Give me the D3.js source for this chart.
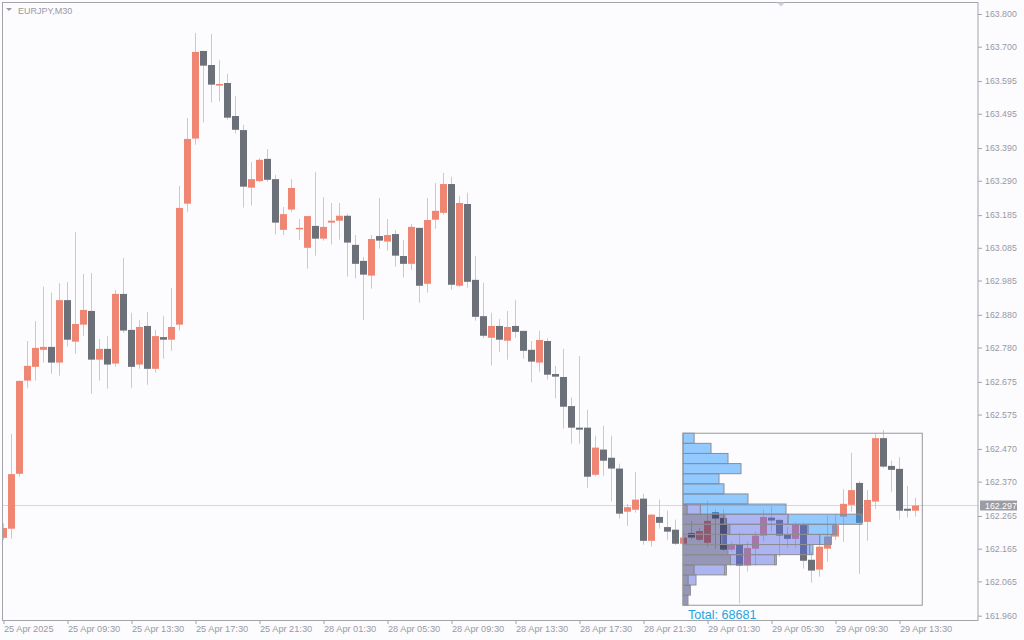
<!DOCTYPE html>
<html><head><meta charset="utf-8">
<script src="https://cdn.jsdelivr.net/npm/d3@7"></script>
<style>
html,body{margin:0;padding:0;background:#fcfcfe;}
svg{display:block;font-family:"Liberation Sans",Arial,sans-serif;}
</style>
</head><body>
<svg id="chart" width="1024" height="640"></svg>
<script>
const symbol = "EURJPY,M30";
const timeLabels = ["25 Apr 2025","25 Apr 09:30","25 Apr 13:30","25 Apr 17:30","25 Apr 21:30","28 Apr 01:30","28 Apr 05:30","28 Apr 09:30","28 Apr 13:30","28 Apr 17:30","28 Apr 21:30","29 Apr 01:30","29 Apr 05:30","29 Apr 09:30","29 Apr 13:30"];
const priceTicks = [163.800,163.700,163.595,163.495,163.390,163.290,163.185,163.085,162.985,162.880,162.780,162.675,162.575,162.470,162.370,162.265,162.165,162.065,161.960];
const lastPrice = 162.297;

const open = [162.198,162.226,162.394,162.679,162.721,162.773,162.782,162.734,162.925,162.798,162.850,162.892,162.743,162.776,162.731,162.944,162.834,162.728,162.846,162.715,162.812,162.804,162.850,163.220,163.419,163.687,163.644,163.581,163.589,163.488,163.445,163.269,163.289,163.357,163.295,163.140,163.202,163.143,163.085,163.152,163.113,163.162,163.168,163.183,163.094,163.045,163.000,163.121,163.104,163.127,163.060,163.036,163.146,162.975,163.171,163.192,163.280,162.969,163.219,162.987,162.876,162.810,162.846,162.801,162.846,162.831,162.773,162.734,162.800,162.699,162.690,162.601,162.535,162.535,162.391,162.468,162.443,162.410,162.278,162.284,162.318,162.189,162.262,162.231,162.223,162.180,162.213,162.192,162.183,162.277,162.259,162.162,162.179,162.113,162.165,162.205,162.260,162.253,162.207,162.195,162.237,162.131,162.101,162.165,162.202,162.263,162.299,162.366,162.247,162.309,162.503,162.418,162.409,162.287,162.281];
const high = [162.243,162.516,162.679,162.800,162.861,162.966,162.948,162.977,162.980,163.133,163.005,163.008,162.806,162.815,162.956,163.054,162.886,162.864,162.889,162.834,162.876,162.962,163.274,163.482,163.742,163.687,163.739,163.659,163.617,163.549,163.461,163.347,163.360,163.387,163.308,163.210,163.295,163.173,163.183,163.317,163.240,163.222,163.222,163.189,163.124,163.057,163.124,163.237,163.173,163.139,163.109,163.158,163.146,163.237,163.283,163.314,163.302,163.243,163.253,163.060,162.978,162.886,162.867,162.892,162.925,162.831,162.800,162.831,162.809,162.724,162.776,162.627,162.754,162.590,162.510,162.541,162.510,162.425,162.302,162.400,162.333,162.270,162.315,162.281,162.254,162.222,162.250,162.228,162.311,162.286,162.286,162.185,162.214,162.185,162.217,162.284,162.296,162.256,162.232,162.246,162.245,162.156,162.202,162.266,162.271,162.347,162.458,162.372,162.344,162.518,162.528,162.434,162.445,162.357,162.321];
const low = [162.191,162.195,162.385,162.656,162.679,162.734,162.700,162.694,162.783,162.761,162.816,162.639,162.679,162.654,162.721,162.825,162.657,162.715,162.666,162.703,162.746,162.770,162.832,163.195,163.400,163.468,163.529,163.532,163.477,163.434,163.208,163.214,163.286,163.287,163.126,163.124,163.195,163.109,163.021,163.061,163.107,163.095,163.110,162.997,162.991,162.864,162.960,163.082,163.076,163.027,162.994,163.018,162.917,162.948,163.143,163.186,162.957,162.965,162.963,162.862,162.809,162.725,162.767,162.743,162.810,162.746,162.673,162.706,162.682,162.624,162.532,162.486,162.486,162.351,162.387,162.388,162.309,162.257,162.235,162.275,162.177,162.171,162.226,162.192,162.176,162.176,162.191,162.188,162.171,162.165,162.159,162.156,161.998,162.095,162.113,162.186,162.217,162.140,162.168,162.168,162.104,162.061,162.079,162.125,162.191,162.186,162.278,162.088,162.189,162.287,162.412,162.339,162.254,162.260,162.263];
const close = [162.228,162.393,162.678,162.724,162.779,162.782,162.734,162.925,162.804,162.852,162.895,162.743,162.776,162.728,162.944,162.832,162.721,162.843,162.715,162.815,162.804,162.843,163.207,163.418,163.684,163.642,163.584,163.586,163.483,163.446,163.272,163.295,163.354,163.293,163.162,163.188,163.268,163.146,163.182,163.113,163.149,163.168,163.183,163.101,163.036,163.003,163.112,163.107,163.124,163.061,163.036,163.149,162.969,163.170,163.198,163.280,162.972,163.222,162.981,162.874,162.816,162.846,162.804,162.843,162.828,162.770,162.737,162.803,162.697,162.691,162.599,162.535,162.529,162.385,162.474,162.434,162.410,162.272,162.292,162.315,162.189,162.269,162.244,162.217,162.180,162.199,162.199,162.219,162.250,162.257,162.162,162.179,162.113,162.167,162.205,162.262,162.251,162.205,162.195,162.240,162.128,162.098,162.171,162.202,162.237,162.302,162.344,162.244,162.314,162.503,162.416,162.406,162.281,162.281,162.297];

// Volume profile (17 price rows, top to bottom), three stacked segments per row
const profileFirstBar = 85;
const profileLastBar = 114;
const profileHigh = 162.518;
const profileLow = 161.992;
const profileDark  = [0,0,0,0,0,0,0,237,2469,2765,2291,2646,2806,651,296,438,296];
const profileMid   = [0,0,0,0,0,0,0,793,3747,4635,5802,4854,2623,1817,474,0,0];
const profileLight = [659,1658,2664,3434,2131,2427,3848,5068,4381,1681,693,195,101,101,0,0,0];

const svg = d3.select("#chart");
const W = 1024, H = 640;
const plot = {left: 2, top: 2, right: 978, bottom: 620};

const x = d3.scaleLinear().domain([0, 1]).range([3.5, 11.5]);
const y = d3.scaleLinear().domain([161.960, 163.800]).range([615.7, 14]);

const textCol = "#9898a6";
const bullCol = "#ef8674";
const bearCol = "#6b7079";
const wickCol = "#c9c9d4";

svg.append("rect").attr("width", W).attr("height", H).attr("fill", "#fcfcfe");

svg.append("defs").append("clipPath").attr("id", "plotclip")
  .append("rect").attr("x", plot.left + 0.5).attr("y", plot.top + 0.5)
  .attr("width", plot.right - plot.left - 0.5).attr("height", plot.bottom - plot.top - 0.5);

const g = svg.append("g").attr("clip-path", "url(#plotclip)");

// current price line
g.append("line")
  .attr("x1", plot.left).attr("x2", plot.right)
  .attr("y1", Math.round(y(lastPrice)) + 0.5).attr("y2", Math.round(y(lastPrice)) + 0.5)
  .attr("stroke", "#d6d6dc").attr("stroke-width", 1);

const candles = open.map((o, i) => ({i, o, h: high[i], l: low[i], c: close[i]}));

g.append("g").selectAll("line").data(candles).join("line")
  .attr("x1", d => x(d.i)).attr("x2", d => x(d.i))
  .attr("y1", d => y(d.h)).attr("y2", d => y(d.l))
  .attr("stroke", wickCol).attr("stroke-width", 1);

g.append("g").selectAll("rect").data(candles).join("rect")
  .attr("x", d => x(d.i) - 3.5)
  .attr("width", 7)
  .attr("y", d => y(Math.max(d.o, d.c)))
  .attr("height", d => Math.max(1.5, Math.abs(y(d.o) - y(d.c))))
  .attr("fill", d => d.c >= d.o ? bullCol : bearCol);

// volume profile
const nRows = profileLight.length;
const step = (profileHigh - profileLow) / nRows;
const rowTotals = profileLight.map((v, r) => v + profileMid[r] + profileDark[r]);
const vx = d3.scaleLinear().domain([0, d3.max(rowTotals)]).range([0, 179]);
const boxLeft = x(profileFirstBar) - 0.5;
const boxRight = x(profileLastBar + 0.85);

const segs = [];
for (let r = 0; r < nRows; r++) {
  let acc = 0;
  [[profileDark[r], "dark"], [profileMid[r], "mid"], [profileLight[r], "light"]].forEach(([v, k]) => {
    if (v > 0) segs.push({r, k, v0: acc, v1: acc + v});
    acc += v;
  });
}
const segFill = {dark: "rgba(40,40,110,0.48)", mid: "rgba(85,105,230,0.48)", light: "rgba(40,150,255,0.5)"};

const pg = g.append("g");
pg.selectAll("rect").data(segs).join("rect")
  .attr("x", d => boxLeft + vx(d.v0))
  .attr("width", d => vx(d.v1) - vx(d.v0))
  .attr("y", d => y(profileHigh - d.r * step))
  .attr("height", d => y(profileHigh - (d.r + 1) * step) - y(profileHigh - d.r * step))
  .attr("fill", d => segFill[d.k])
  .attr("stroke", "#8e8e92").attr("stroke-width", 1);

pg.append("rect")
  .attr("x", boxLeft).attr("y", y(profileHigh))
  .attr("width", boxRight - boxLeft).attr("height", y(profileLow) - y(profileHigh))
  .attr("fill", "none").attr("stroke", "#98989c").attr("stroke-width", 1);

const total = d3.sum(rowTotals);
svg.append("text")
  .attr("x", boxLeft + 5).attr("y", 618.5)
  .attr("fill", "#23a4dd").attr("font-size", 12.6)
  .text("Total: " + total);

// frame
svg.append("rect")
  .attr("x", plot.left + 0.5).attr("y", plot.top + 0.5)
  .attr("width", plot.right - plot.left - 0.5).attr("height", plot.bottom - plot.top)
  .attr("fill", "none").attr("stroke", "#a3a3aa").attr("stroke-width", 1);

// right price axis
const ya = svg.append("g").attr("transform", `translate(${plot.right},0)`)
  .call(d3.axisRight(y).tickValues(priceTicks).tickSize(4).tickFormat(d3.format(".3f")));
ya.select(".domain").remove();
ya.selectAll(".tick line").attr("stroke", "#a3a3aa");
ya.selectAll(".tick text").attr("fill", textCol).attr("font-size", 8.8)
  .attr("font-family", "Liberation Sans, Arial, sans-serif");

// bottom time axis
const xa = svg.append("g").attr("transform", `translate(0,${plot.bottom})`)
  .call(d3.axisBottom(x).tickValues(d3.range(0, timeLabels.length * 8, 8)).tickSize(4)
    .tickFormat((d, i) => timeLabels[i]));
xa.select(".domain").remove();
xa.selectAll(".tick line").attr("stroke", "#a3a3aa");
xa.selectAll(".tick text").attr("fill", textCol).attr("font-size", 9.2)
  .attr("text-anchor", "start").attr("x", 0).attr("y", 5)
  .attr("font-family", "Liberation Sans, Arial, sans-serif");

// last price label
const ly = y(lastPrice);
svg.append("rect").attr("x", 980).attr("y", ly - 5).attr("width", 37).attr("height", 10)
  .attr("fill", "#9c9ca4");
svg.append("text").attr("x", 985).attr("y", ly).attr("dy", "0.35em")
  .attr("fill", "#ffffff").attr("font-size", 8.8).text(d3.format(".3f")(lastPrice));

// title
svg.append("path").attr("d", "M6,8 L12,8 L9,11 Z").attr("fill", "#9a9aa4");
svg.append("text").attr("x", 18).attr("y", 14).attr("fill", textCol)
  .attr("font-size", 9).text(symbol);

// chart shift marker
svg.append("path").attr("d", "M777,2.5 L785,2.5 L781,6.5 Z").attr("fill", "#cfcfd6");
</script>
</body></html>
